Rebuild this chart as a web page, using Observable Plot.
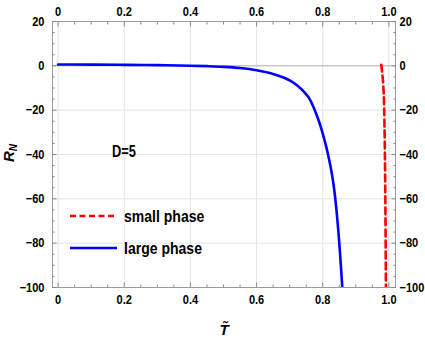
<!DOCTYPE html>
<html>
<head>
<meta charset="utf-8">
<script src="https://cdn.jsdelivr.net/npm/d3@7"></script>
<script src="https://cdn.jsdelivr.net/npm/@observablehq/plot@0.6"></script>
<style>
  html, body { margin: 0; padding: 0; background: #fff; }
  #wrap { position: relative; width: 425px; height: 340px; overflow: hidden; }
  .lbl { position: absolute; font-family: "Liberation Sans", Arial, sans-serif; font-weight: bold; color: #000; white-space: nowrap; line-height: 1; }
</style>
</head>
<body>
<div id="wrap"></div>
<script>
// ---- data ----
const largeX = [0, 0.1, 0.2, 0.3, 0.4, 0.45, 0.5, 0.55, 0.6, 0.65, 0.7, 0.723, 0.745, 0.7605, 0.776, 0.7885, 0.799, 0.808, 0.816, 0.823, 0.829, 0.834, 0.838, 0.8415, 0.8445, 0.8475, 0.850, 0.8525, 0.8548, 0.857, 0.8592];
const largeY = [0.6, 0.55, 0.45, 0.3, 0.05, -0.15, -0.45, -1.0, -2.0, -3.7, -6.6, -8.9, -12, -15, -20, -25, -30, -35, -40, -45, -50, -55, -60, -65, -70, -75, -80, -85, -90, -95, -100];
const smallX = [0.977, 0.979, 0.981, 0.983, 0.985, 0.9865, 0.988, 0.989, 0.990, 0.991];
const smallY = [0.5, -2, -5, -9, -15, -25, -40, -55, -75, -100];
const xTicks = [0, 0.2, 0.4, 0.6, 0.8, 1.0];
const xMinor = [0.05, 0.1, 0.15, 0.25, 0.3, 0.35, 0.45, 0.5, 0.55, 0.65, 0.7, 0.75, 0.85, 0.9, 0.95];
const yTicks = [20, 0, -20, -40, -60, -80, -100];
const yMinor = [15, 10, 5, -5, -10, -15, -25, -30, -35, -45, -50, -55, -65, -70, -75, -85, -90, -95];
const yGrid = [-20, -40, -60, -80];
const seriesNames = ["small phase", "large phase"];
const annotation = "D=5";

const large = largeX.map((x, i) => ({x, y: largeY[i]}));
const small = smallX.map((x, i) => ({x, y: smallY[i]}));

const xfmt = d => d === 0 ? "0" : d.toFixed(1);
const yfmt = d => d < 0 ? "\u2212" + (-d) : String(d);
const tickStroke = "#8a8a8a";

const chart = Plot.plot({
  width: 425,
  height: 340,
  marginLeft: 52,
  marginRight: 30,
  marginTop: 21,
  marginBottom: 53,
  style: {fontFamily: '"Liberation Sans", Arial, sans-serif', fontSize: "13px", fontWeight: "bold", color: "#000", background: "#fff"},
  x: {domain: [-0.017, 1.02]},
  y: {domain: [-100, 20]},
  marks: [
    Plot.gridX(xTicks, {stroke: "#e3e3e3", strokeOpacity: 1}),
    Plot.gridY(yGrid, {stroke: "#e3e3e3", strokeOpacity: 1}),
    Plot.ruleY([0], {stroke: "#aaaaaa", strokeWidth: 1}),
    Plot.line(large, {x: "x", y: "y", stroke: "#0000ff", strokeWidth: 2.6, curve: "monotone-x", clip: true}),
    Plot.line(small, {x: "x", y: "y", stroke: "#ff0000", strokeWidth: 2.6, strokeDasharray: "7,4", curve: "monotone-x", clip: true}),
    Plot.frame({stroke: "#9a9a9a"}),
    // inward ticks (major)
    Plot.axisX(xTicks, {anchor: "bottom", tickSize: 4.5, dy: -4.5, tickFormat: () => "", label: null, stroke: tickStroke}),
    Plot.axisX(xTicks, {anchor: "top", tickSize: 4.5, dy: 4.5, tickFormat: () => "", label: null, stroke: tickStroke}),
    Plot.axisY(yTicks, {anchor: "left", tickSize: 4.5, dx: 4.5, tickFormat: () => "", label: null, stroke: tickStroke}),
    Plot.axisY(yTicks, {anchor: "right", tickSize: 4.5, dx: -4.5, tickFormat: () => "", label: null, stroke: tickStroke}),
    // inward ticks (minor)
    Plot.axisX(xMinor, {anchor: "bottom", tickSize: 2.5, dy: -2.5, tickFormat: () => "", label: null, stroke: tickStroke}),
    Plot.axisX(xMinor, {anchor: "top", tickSize: 2.5, dy: 2.5, tickFormat: () => "", label: null, stroke: tickStroke}),
    Plot.axisY(yMinor, {anchor: "left", tickSize: 2.5, dx: 2.5, tickFormat: () => "", label: null, stroke: tickStroke}),
    Plot.axisY(yMinor, {anchor: "right", tickSize: 2.5, dx: -2.5, tickFormat: () => "", label: null, stroke: tickStroke}),
    // tick labels
    Plot.axisX(xTicks, {anchor: "bottom", tickSize: 0, tickPadding: 7, tickFormat: xfmt, label: null}),
    Plot.axisX(xTicks, {anchor: "top", tickSize: 0, tickPadding: 6, tickFormat: xfmt, label: null}),
    Plot.axisY(yTicks, {anchor: "left", tickSize: 0, tickPadding: 8, tickFormat: yfmt, label: null}),
    Plot.axisY(yTicks, {anchor: "right", tickSize: 0, tickPadding: 4, tickFormat: yfmt, label: null})
  ]
});

// narrow the tick label glyphs (condensed look), scaling about each label's anchor point
chart.querySelectorAll("text").forEach(t => {
  const tr = t.getAttribute("transform") || "";
  t.setAttribute("transform", tr + " scale(0.85,1)");
});

const wrap = document.getElementById("wrap");
wrap.appendChild(chart);

// annotation
const ann = document.createElement("div");
ann.className = "lbl";
ann.style.cssText = "left:112px; top:144px; font-size:16px; transform: scaleX(0.8); transform-origin: left center;";
ann.textContent = annotation;
wrap.appendChild(ann);

// legend
const legendColors = ["#ff0000", "#0000ff"];
const legendDash = ["6,3.5", null];
const legendTop = [207, 239];
seriesNames.forEach((name, i) => {
  const row = document.createElement("div");
  row.style.cssText = `position:absolute; left:70px; top:${legendTop[i]}px; height:18px; display:flex; align-items:center;`;
  const sw = document.createElementNS("http://www.w3.org/2000/svg", "svg");
  sw.setAttribute("width", "47");
  sw.setAttribute("height", "18");
  const ln = document.createElementNS("http://www.w3.org/2000/svg", "line");
  ln.setAttribute("x1", "0"); ln.setAttribute("x2", "47");
  ln.setAttribute("y1", "9"); ln.setAttribute("y2", "9");
  ln.setAttribute("stroke", legendColors[i]);
  ln.setAttribute("stroke-width", "2.6");
  if (legendDash[i]) ln.setAttribute("stroke-dasharray", legendDash[i]);
  sw.appendChild(ln);
  row.appendChild(sw);
  const t = document.createElement("span");
  t.className = "lbl";
  t.style.cssText = "position:relative; margin-left:7px; font-size:16.5px; transform: scaleX(0.85); transform-origin: left center;";
  t.textContent = name;
  row.appendChild(t);
  wrap.appendChild(row);
});

// axis titles
const yl = document.createElement("div");
yl.className = "lbl";
yl.style.cssText = "left:10px; top:153px; font-size:15px; font-style:italic; transform: translate(-50%,-50%) rotate(-90deg);";
yl.innerHTML = "R<sub style='font-size:10px; vertical-align:-3px;'>N</sub>";
wrap.appendChild(yl);

const xl = document.createElement("div");
xl.className = "lbl";
xl.style.cssText = "left:224px; top:329px; font-size:15px; font-style:italic; transform: translate(-50%,-50%);";
xl.textContent = "T\u0303";
wrap.appendChild(xl);
</script>
</body>
</html>
